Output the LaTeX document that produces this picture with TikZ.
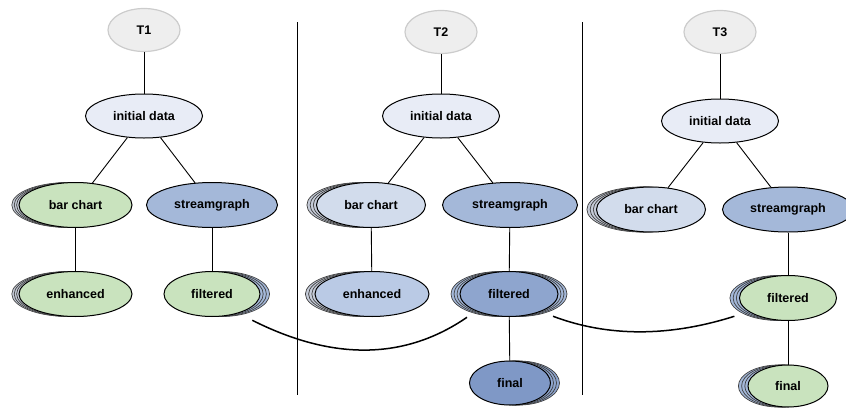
\documentclass[tikz,border=0pt]{standalone}
\usepackage{fontspec}
\setmainfont{Liberation Sans}
\usetikzlibrary{shapes.geometric}
\definecolor{tfill}{HTML}{EEEEEE}
\definecolor{tline}{HTML}{CCCCCC}
\definecolor{inifill}{HTML}{E8ECF6}
\definecolor{greenA}{HTML}{C9E3BE}
\definecolor{blueA}{HTML}{A4B8D9}
\definecolor{blueB}{HTML}{8EA5CE}
\definecolor{blueC}{HTML}{7F98C6}
\definecolor{paleA}{HTML}{D2DCEC}
\definecolor{midA}{HTML}{BACAE5}
\definecolor{ghostgray}{HTML}{C5CBD8}
\tikzset{
  bub/.style={ellipse, draw=black, line width=1pt, inner sep=0pt,
    minimum height=45pt, font=\fontsize{12.5}{14}\selectfont\bfseries},
  tnode/.style={bub, draw=tline, line width=1.2pt, fill=tfill,
    minimum width=72pt, minimum height=43pt},
  edge/.style={line width=0.9pt},
  link/.style={line width=1.5pt},
  ghost/.style={draw=black!75, line width=0.7pt},
  divider/.style={line width=0.9pt},
}
% #1 centre, #2 fill, #3 x radius, #4 y radius, #5 step (negative = left)
\newcommand\ghoststack[5]{%
  \foreach \k in {3,2,1}{%
    \filldraw[ghost,fill=#2] ([xshift={\k*(#5)}]#1) ellipse [x radius=#3, y radius=#4];}%
}
\begin{document}
\begin{tikzpicture}[x=1pt,y=-1pt]
\useasboundingbox (0,0) rectangle (846,407);

% centres
\coordinate (cbar1) at (75.5,205);
\coordinate (cenh1) at (75.5,294);
\coordinate (cfil1) at (212,294);
\coordinate (cbar2) at (371,205);
\coordinate (cenh2) at (372,294);
\coordinate (cfil2) at (509,294);
\coordinate (cfin2) at (510,383);
\coordinate (cbar3) at (651,209.5);
\coordinate (cfil3) at (788,298);
\coordinate (cfin3) at (788,386);

% dividers
\draw[divider] (297,22) -- (297,395);
\draw[divider] (582,22) -- (582,395);

% shadows
\ghoststack{cbar1}{ghostgray}{56.5}{22.5}{-2.4}
\ghoststack{cenh1}{ghostgray}{56.5}{22.5}{-2.4}
\ghoststack{cfil1}{blueA}{48}{22.5}{3.2}
\ghoststack{cbar2}{ghostgray}{54.5}{22.5}{-3.2}
\ghoststack{cenh2}{ghostgray}{57}{22.5}{-3.2}
\ghoststack{cfil2}{blueA}{49}{22.5}{-3}
\ghoststack{cfil2}{blueA}{49}{22.5}{3}
\ghoststack{cfin2}{blueB}{40.5}{22}{3}
\ghoststack{cbar3}{ghostgray}{54.5}{22.5}{-3.2}
\ghoststack{cfil3}{blueA}{48.5}{22.5}{-3.2}
\ghoststack{cfin3}{blueA}{40}{21}{-3.2}

% column 1
\node[tnode] (t1) at (144,30) {T1};
\node[bub, fill=inifill, minimum width=117pt, minimum height=44pt] (ini1) at (144,116) {initial data};
\node[bub, fill=greenA, minimum width=113pt] (bar1) at (cbar1) {bar chart};
\node[bub, fill=blueA, minimum width=131pt] (str1) at (212,205) {streamgraph};
\node[bub, fill=greenA, minimum width=113pt] (enh1) at (cenh1) {enhanced};
\node[bub, fill=greenA, minimum width=96pt] (fil1) at (cfil1) {filtered};

% column 2
\node[tnode] (t2) at (441,32) {T2};
\node[bub, fill=inifill, minimum width=117pt, minimum height=44pt] (ini2) at (441,116) {initial data};
\node[bub, fill=paleA, minimum width=109pt] (bar2) at (cbar2) {bar chart};
\node[bub, fill=blueA, minimum width=135pt] (str2) at (510,205) {streamgraph};
\node[bub, fill=midA, minimum width=114pt] (enh2) at (cenh2) {enhanced};
\node[bub, fill=blueB, minimum width=98pt] (fil2) at (cfil2) {filtered};
\node[bub, fill=blueC, minimum width=81pt, minimum height=44pt] (fin2) at (cfin2) {final};

% column 3
\node[tnode] (t3) at (720,32) {T3};
\node[bub, fill=inifill, minimum width=117pt, minimum height=44pt] (ini3) at (720,121) {initial data};
\node[bub, fill=paleA, minimum width=109pt] (bar3) at (cbar3) {bar chart};
\node[bub, fill=blueA, minimum width=131pt] (str3) at (788,209.5) {streamgraph};
\node[bub, fill=greenA, minimum width=97pt] (fil3) at (cfil3) {filtered};
\node[bub, fill=greenA, minimum width=80pt, minimum height=42pt] (fin3) at (cfin3) {final};

% edges
\draw[edge] (t1) -- (ini1);
\draw[edge] (ini1) -- (bar1);
\draw[edge] (ini1) -- (str1);
\draw[edge] (bar1) -- (enh1);
\draw[edge] (str1) -- (fil1);

\draw[edge] (t2) -- (ini2);
\draw[edge] (ini2) -- (bar2);
\draw[edge] (ini2) -- (str2);
\draw[edge] (bar2) -- (enh2);
\draw[edge] (str2) -- (fil2);
\draw[edge] (fil2) -- (fin2);

\draw[edge] (t3) -- (ini3);
\draw[edge] (ini3) -- (bar3);
\draw[edge] (ini3) -- (str3);
\draw[edge] (str3) -- (fil3);
\draw[edge] (fil3) -- (fin3);

% links between time steps
\draw[link] ([shift={(6,10)}]fil1.south east) .. controls (333,361) and (405,360) .. ([shift={(-7,7)}]fil2.south west);
\draw[link] ([shift={(9,6)}]fil2.south east) .. controls (608,337) and (669,337) .. ([shift={(-19,2)}]fil3.south west);
\end{tikzpicture}
\end{document}
